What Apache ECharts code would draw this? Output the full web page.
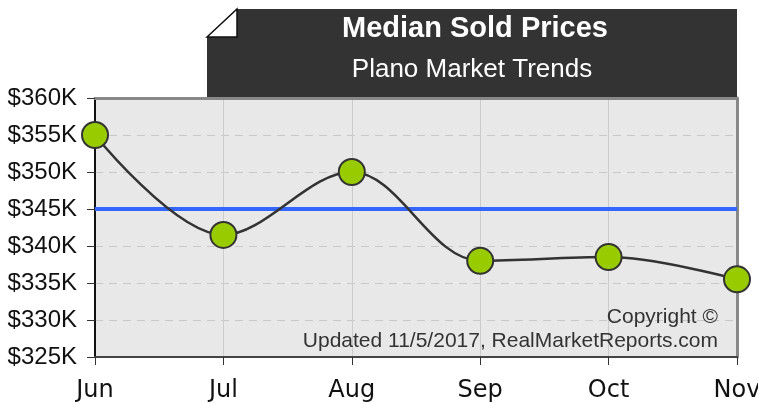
<!DOCTYPE html>
<html><head><meta charset="utf-8">
<script src="https://cdn.jsdelivr.net/npm/echarts@6/dist/echarts.min.js"></script>
<style>html,body{margin:0;padding:0;background:#fff}#c{width:758px;height:404px}</style>
</head><body><div id="c"></div>
<script>
const categories = ['Jun','Jul','Aug','Sep','Oct','Nov'];
const medianPrices = [355, 341.5, 350, 338, 338.5, 335.5];
const averagePrice = 345;
const yTicks = [325, 330, 335, 340, 345, 350, 355, 360];
const titleText = 'Median Sold Prices';
const subtitleText = 'Plano Market Trends';
const creditLines = ['Copyright ©', 'Updated 11/5/2017, RealMarketReports.com'];

const chart = echarts.init(document.getElementById('c'), null, {renderer:'canvas'});
const yMin = yTicks[0], yMax = yTicks[yTicks.length-1];
chart.setOption({
  animation:false,
  backgroundColor:'#fff',
  grid:{left:95,right:21,top:98,bottom:47,containLabel:false,outerBoundsMode:'none',show:true,backgroundColor:'#e8e8e8',borderWidth:0},
  xAxis:[{type:'category',data:categories,boundaryGap:false,
    axisLine:{lineStyle:{color:'#444',width:2}},
    axisTick:{show:true,length:8,lineStyle:{color:'#333',width:1}},
    axisLabel:{fontFamily:'DejaVu Sans',fontSize:24,color:'#111',margin:22,hideOverlap:false},
    splitLine:{show:true,lineStyle:{color:'#ccc',width:1}}},
   {type:'category',data:categories,boundaryGap:false,position:'top',
    axisLine:{show:true,lineStyle:{color:'#888',width:3}},
    axisTick:{show:false},axisLabel:{show:false},splitLine:{show:false}}],
  yAxis:[{type:'value',min:yMin,max:yMax,interval:5,
    axisLine:{show:true,lineStyle:{color:'#111',width:2}},
    axisTick:{show:true,length:8,lineStyle:{color:'#333',width:1}},
    axisLabel:{fontFamily:'Liberation Sans',fontSize:24,color:'#111',margin:18,formatter:v=>'$'+v+'K'},
    splitLine:{show:true,lineStyle:{color:'#c8c8c8',type:[8,6],width:1}}},
   {type:'value',min:yMin,max:yMax,interval:5,position:'right',
    axisLine:{show:true,lineStyle:{color:'#888',width:3}},
    axisTick:{show:false},axisLabel:{show:false},splitLine:{show:false}}],
  series:[{
    type:'line',data:medianPrices,smooth:0.35,clip:false,
    symbol:'circle',symbolSize:26,
    lineStyle:{color:'#333',width:2.5},
    itemStyle:{color:'#99cc00',borderColor:'#333',borderWidth:2},
    z:5,
    markLine:{silent:true,symbol:'none',label:{show:false},
      lineStyle:{color:'#3366ff',width:4,type:'solid'},
      data:[{yAxis:averagePrice}],z:3}
  }],
  graphic:[
    {type:'polygon',z:10,shape:{points:[[237,9],[737,9],[737,97],[207,97],[207,37]]},style:{fill:'#333'}},
    {type:'polygon',z:11,shape:{points:[[207,37],[237,9],[237,37]]},style:{fill:'#fff',stroke:'#111',lineWidth:1.5}},
    {type:'text',z:12,x:475,y:29,style:{text:titleText,fill:'#fff',font:'bold 29px "Liberation Sans"',align:'center',verticalAlign:'middle'}},
    {type:'text',z:12,x:472,y:70,style:{text:subtitleText,fill:'#fff',font:'26px "Liberation Sans"',align:'center',verticalAlign:'middle'}},
    {type:'text',z:12,x:718,y:317,style:{text:creditLines[0],fill:'#333',font:'21px "Liberation Sans"',align:'right',verticalAlign:'middle'}},
    {type:'text',z:12,x:718,y:341,style:{text:creditLines[1],fill:'#333',font:'21px "Liberation Sans"',align:'right',verticalAlign:'middle'}}
  ]
});
</script></body></html>
